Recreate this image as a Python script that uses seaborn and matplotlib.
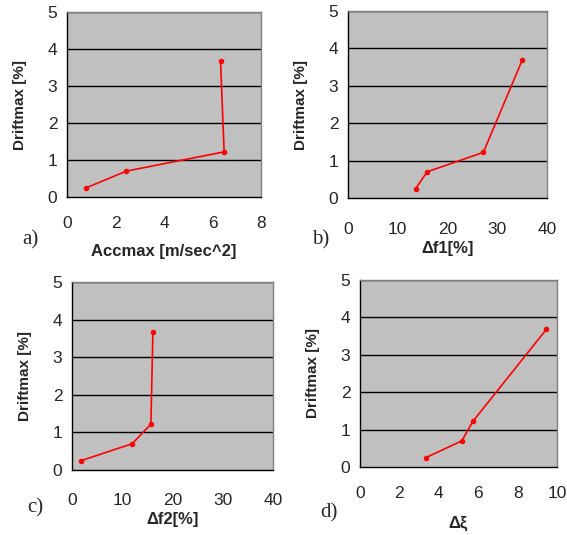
import matplotlib
matplotlib.use("Agg")
import matplotlib.pyplot as plt
import seaborn as sns
import pandas as pd

drift = [0.25, 0.70, 1.22, 3.68]
acc = [0.80, 2.45, 6.48, 6.33]
df1 = [13.6, 15.9, 27.2, 35.0]
df2 = [1.85, 12.0, 15.7, 16.1]
dxi = [3.34, 5.17, 5.73, 9.46]

panels = [
    ("a)", acc, "Accmax [m/sec^2]", (0, 8), [0, 2, 4, 6, 8]),
    ("b)", df1, "Δf1[%]", (0, 40), [0, 10, 20, 30, 40]),
    ("c)", df2, "Δf2[%]", (0, 40), [0, 10, 20, 30, 40]),
    ("d)", dxi, "Δξ", (0, 10), [0, 2, 4, 6, 8, 10]),
]
yticks = [0, 1, 2, 3, 4, 5]

sns.set_style("white")
plt.rcParams['font.family'] = ['Liberation Sans', 'DejaVu Sans']

W, H = 567, 535
fig = plt.figure(figsize=(W / 100, H / 100), dpi=100)

# pixel boxes: left, top, right, bottom
boxes = [(67, 12, 261, 197), (348, 11, 547, 198), (72, 282, 273, 470), (360, 280, 557, 467)]
label_pos = [(22, 240), (312, 240), (27, 508), (320, 513)]
xtick_pads = [10, 13.5, 12.5, 10]
xlabel_pads = [9, 3, 3, 10]

for (lab, xs, xlabel, xlim, xticks), (l, t, r, b), (lx, ly), tp, lp in zip(
        panels, boxes, label_pos, xtick_pads, xlabel_pads):
    ax = fig.add_axes([l / W, 1 - b / H, (r - l) / W, (b - t) / H])
    ax.set_facecolor("#C0C0C0")
    d = pd.DataFrame({"x": xs, "y": drift})
    sns.lineplot(data=d, x="x", y="y", sort=False, ax=ax, color="#FF0000",
                 linewidth=1.2, marker="o", markersize=4, markeredgewidth=0)
    ax.set_xlim(*xlim)
    ax.set_ylim(0, 5)
    ax.set_xticks(xticks)
    ax.set_yticks(yticks)
    for yv in yticks[1:]:
        ax.axhline(yv, color="black", linewidth=1.0, zorder=1)
    for s in ["top", "right"]:
        ax.spines[s].set_color("#808080")
        ax.spines[s].set_linewidth(1.0)
    for s in ["left", "bottom"]:
        ax.spines[s].set_color("black")
        ax.spines[s].set_linewidth(1.0)
    ax.tick_params(axis="both", direction="out", length=4, width=1, color="black",
                   labelsize=12.5)
    ax.tick_params(axis="x", pad=tp)
    ax.tick_params(axis="y", pad=3)
    ax.set_xlabel(xlabel, fontsize=12, fontweight="bold", labelpad=lp)
    ax.set_ylabel("Driftmax [%]", fontsize=11, fontweight="bold", labelpad=15)
    fig.text(lx / W, 1 - ly / H, lab, fontsize=15, family="Liberation Serif",
             ha="left", va="center")

fig.savefig("out.png", dpi=100)
